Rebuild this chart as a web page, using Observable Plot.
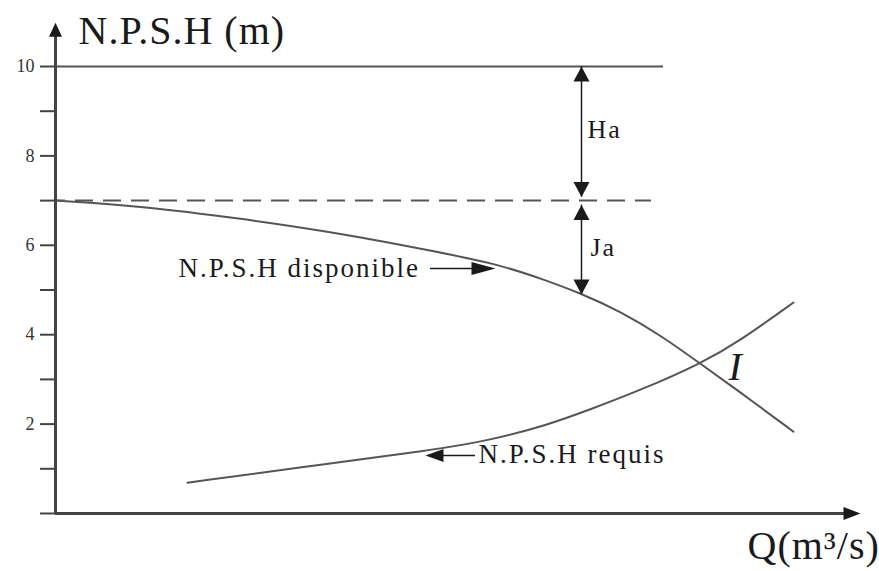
<!DOCTYPE html>
<html>
<head>
<meta charset="utf-8">
<script src="https://cdn.jsdelivr.net/npm/d3@7"></script>
<script src="https://cdn.jsdelivr.net/npm/@observablehq/plot@0.6"></script>
<style>
  html, body { margin: 0; padding: 0; background: #fff; }
  #chart svg { display: block; }
</style>
</head>
<body>
<div id="chart"></div>
<script>
// ---- Data ----
const dispoQ    = [0, 85, 185, 285, 385, 445, 485, 525, 565, 605, 645, 685, 738];
const dispoNPSH = [7.0, 6.88, 6.60, 6.27, 5.84, 5.56, 5.26, 4.93, 4.52, 3.99, 3.35, 2.71, 1.83];

const requisQ    = [132, 248, 375, 435, 492, 535, 585, 645, 685, 738];
const requisNPSH = [0.69, 1.04, 1.41, 1.64, 1.98, 2.33, 2.76, 3.35, 3.87, 4.72];

const yTicks      = [0, 1, 2, 3, 4, 5, 6, 7, 8, 9, 10];
const yTickLabels = ["", "", "2", "", "4", "", "6", "", "8", "", "10"];

const levelMax   = 10;   // upper horizontal level
const levelDash  = 7;    // dashed level
const qLevelEnd  = 608;  // end of the upper level line
const qDashEnd   = 596;  // end of dashed line
const qMeasure   = 526;  // Q where Ha / Ja are measured
const haFrom = 7.08, haTo = 10;
const jaFrom = 4.90, jaTo = 6.90;

const axisYTop = 10.98;  // y-axis arrow tip
const axisXEnd = 805;    // x-axis arrow tip

const dispo  = dispoQ.map((q, i) => ({q, v: dispoNPSH[i]}));
const requis = requisQ.map((q, i) => ({q, v: requisNPSH[i]}));

// ---- arrowhead symbols (tip at the symbol origin) ----
function head(dir, len, half) {
  return {
    draw(ctx) {
      let p;
      if (dir === "up") p = [[0, 0], [half, len], [-half, len]];
      else if (dir === "down") p = [[0, 0], [half, -len], [-half, -len]];
      else if (dir === "right") p = [[0, 0], [-len, half], [-len, -half]];
      else p = [[0, 0], [len, half], [len, -half]];
      ctx.moveTo(p[0][0], p[0][1]);
      ctx.lineTo(p[1][0], p[1][1]);
      ctx.lineTo(p[2][0], p[2][1]);
      ctx.closePath();
    }
  };
}

const serif = "Liberation Serif, Times New Roman, serif";
const ink = "#1a1a1a";
const lineGray = "#555";
const txt = (s, opts) => Plot.text([s], {text: d => d, textAnchor: "start", lineAnchor: "bottom",
  fontFamily: serif, fill: ink, ...opts});

const chart = Plot.plot({
  width: 879,
  height: 571,
  marginLeft: 55,
  marginRight: 19,
  marginTop: 66,
  marginBottom: 58,
  style: {fontFamily: serif, fontSize: "18px", background: "#fff", color: ink},
  x: {domain: [0, axisXEnd], axis: null},
  y: {domain: [0, 10], axis: null},
  marks: [
    // reference levels
    Plot.ruleY([levelMax], {x1: 0, x2: qLevelEnd, stroke: lineGray, strokeWidth: 2}),
    Plot.ruleY([levelDash], {x1: 0, x2: qDashEnd, stroke: lineGray, strokeWidth: 2,
      strokeDasharray: "18,10", strokeDashoffset: 8}),

    // curves
    Plot.line(dispo, {x: "q", y: "v", curve: "basis", stroke: lineGray, strokeWidth: 2}),
    Plot.line(requis, {x: "q", y: "v", curve: "basis", stroke: lineGray, strokeWidth: 2}),

    // axes lines
    Plot.ruleX([0], {y1: 0, y2: axisYTop - 0.1, stroke: "#444", strokeWidth: 3}),
    Plot.ruleY([0], {x1: 0, x2: axisXEnd - 5, stroke: "#444", strokeWidth: 3}),
    Plot.axisY({
      ticks: yTicks,
      tickFormat: (d) => yTickLabels[yTicks.indexOf(d)],
      tickSize: 15,
      tickPadding: 6,
      stroke: "#444",
      strokeWidth: 2,
      fill: "#333",
      fontSize: 18,
      fontFamily: serif,
      label: null
    }),
    Plot.dot([{q: 0, v: axisYTop}], {x: "q", y: "v", symbol: head("up", 14, 6.5), fill: ink}),
    Plot.dot([{q: axisXEnd, v: 0}], {x: "q", y: "v", symbol: head("right", 17, 6.5), fill: ink}),

    // Ha / Ja dimension arrows
    Plot.ruleX([qMeasure], {y1: haFrom, y2: haTo, stroke: ink, strokeWidth: 1.5}),
    Plot.ruleX([qMeasure], {y1: jaFrom, y2: jaTo, stroke: ink, strokeWidth: 1.5}),
    Plot.dot([{q: qMeasure, v: haTo}, {q: qMeasure, v: jaTo}], {x: "q", y: "v", symbol: head("up", 15, 8), fill: ink}),
    Plot.dot([{q: qMeasure, v: haFrom}, {q: qMeasure, v: jaFrom}], {x: "q", y: "v", symbol: head("down", 15, 8), fill: ink}),
    txt("Ha", {x: 532, y: 8.41, fontSize: 26}),
    txt("Ja", {x: 535, y: 5.77, fontSize: 26}),

    // curve labels with pointer arrows
    txt("N.P.S.H disponible", {x: 123, y: 5.30, fontSize: 27}),
    Plot.ruleY([5.48], {x1: 375, x2: 430, stroke: ink, strokeWidth: 1.5}),
    Plot.dot([{q: 440, v: 5.48}], {x: "q", y: "v", symbol: head("right", 24, 6.5), fill: ink}),

    txt("N.P.S.H requis", {x: 423, y: 1.14, fontSize: 27}),
    Plot.ruleY([1.30], {x1: 380, x2: 420, stroke: ink, strokeWidth: 1.5}),
    Plot.dot([{q: 370, v: 1.30}], {x: "q", y: "v", symbol: head("left", 18, 6.5), fill: ink}),

    // intersection label
    txt("I", {x: 673, y: 2.98, fontSize: 40, fontStyle: "italic"}),

    // axis titles
    txt("N.P.S.H (m)", {x: 23, y: 10.50, fontSize: 40}),
    txt("Q(m³/s)", {x: 692, y: -1.01, fontSize: 40})
  ]
});

const sel = d3.select(chart).selectAll("text");
sel.filter(function () { return /disponible|requis|^Ha$|^Ja$/.test(this.textContent); })
  .attr("letter-spacing", "2px");
sel.filter(function () { return /^N\.P\.S\.H \(m\)$|^Q\(/.test(this.textContent); })
  .attr("letter-spacing", "1px");

document.getElementById("chart").appendChild(chart);
</script>
</body>
</html>
